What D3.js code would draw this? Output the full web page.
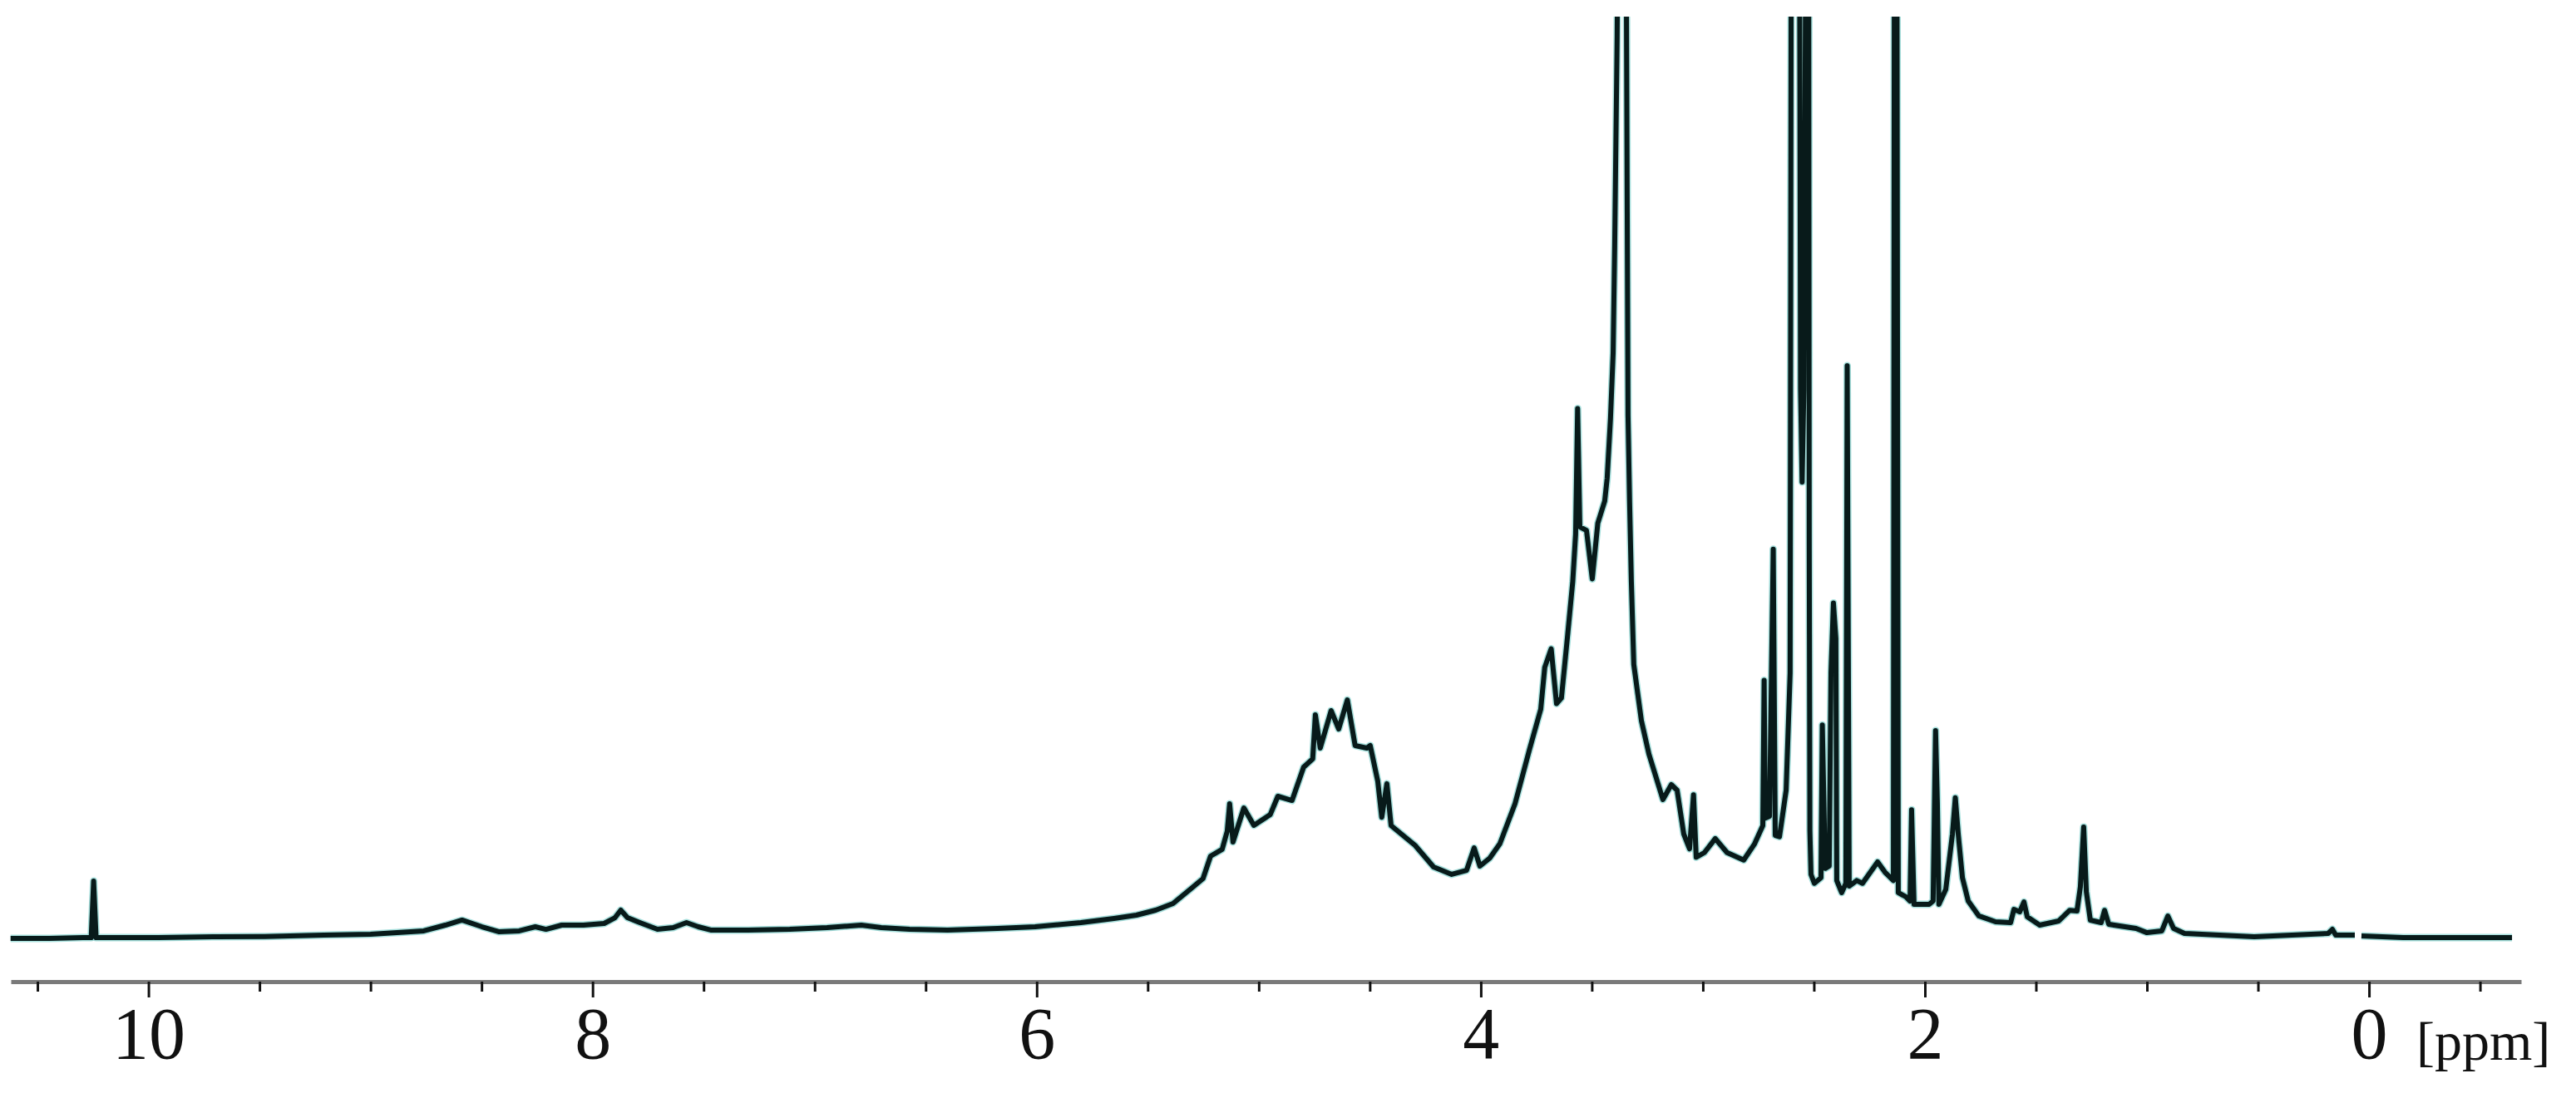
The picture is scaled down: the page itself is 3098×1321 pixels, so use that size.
<!DOCTYPE html>
<html>
<head>
<meta charset="utf-8">
<script src="https://cdn.jsdelivr.net/npm/d3@7"></script>
<style>
  html, body { margin: 0; padding: 0; background: #ffffff; }
</style>
</head>
<body>
<div id="canvas"></div>
<script>
// 1H NMR trace as [ppm, intensity] pairs
// intensity: 0 = flat baseline, 100 = top of the plot (taller peaks get cut)

const baselineLeft = [
    [10.621, 0.98], [10.446, 0.98], [10.296, 1.07], [10.258, 1.07], [10.247, 7.14],
    [10.236, 1.07], [9.955, 1.07], [9.697, 1.16], [9.476, 1.19], [9.210, 1.34],
    [9.000, 1.43], [8.760, 1.79], [8.663, 2.41], [8.588, 2.95], [8.498, 2.23],
    [8.423, 1.70], [8.330, 1.79], [8.258, 2.23], [8.210, 1.96], [8.139, 2.41],
    [8.041, 2.41], [7.948, 2.59], [7.899, 3.21], [7.873, 4.02], [7.843, 3.21],
    [7.787, 2.68], [7.708, 1.96], [7.637, 2.14], [7.577, 2.68], [7.524, 2.23],
    [7.468, 1.88], [7.300, 1.88], [7.112, 1.96], [6.944, 2.14], [6.790, 2.41],
    [6.700, 2.14], [6.573, 1.96], [6.401, 1.88], [6.176, 2.05], [6.007, 2.23]
];

const sugarHump = [
    [5.801, 2.68], [5.652, 3.13], [5.551, 3.48], [5.464, 4.02], [5.386, 4.73],
    [5.300, 6.43], [5.251, 7.41], [5.217, 9.82], [5.165, 10.54], [5.142, 12.5],
    [5.131, 15.45], [5.116, 11.34], [5.067, 15.0], [5.022, 13.13], [4.948, 14.29],
    [4.914, 16.25], [4.850, 15.8], [4.798, 19.38], [4.757, 20.27], [4.745, 25.0],
    [4.723, 21.43], [4.674, 25.45], [4.640, 23.48], [4.601, 26.6], [4.566, 21.7],
    [4.513, 21.43], [4.498, 21.7], [4.464, 17.86], [4.446, 14.0], [4.423, 17.6],
    [4.404, 13.1], [4.296, 10.98], [4.213, 8.66], [4.131, 7.86], [4.064, 8.3],
    [4.030, 10.7], [4.004, 8.75]
];

const mainPeak = [
    [3.960, 9.6], [3.914, 11.16], [3.846, 15.45], [3.779, 21.43], [3.730, 25.6],
    [3.712, 30.1], [3.683, 32.1], [3.659, 26.2], [3.637, 26.8], [3.610, 33.3],
    [3.586, 39.3], [3.573, 44.4], [3.564, 57.9], [3.554, 45.2], [3.524, 44.8],
    [3.498, 39.6], [3.473, 45.6], [3.442, 47.95], [3.431, 50.4], [3.416, 56.8],
    [3.404, 63.9], [3.397, 75.4], [3.386, 97.8], [3.378, 125], [3.348, 125],
    [3.337, 57.1], [3.330, 47.95], [3.322, 39.3], [3.311, 30.4], [3.277, 24.4],
    [3.243, 20.8], [3.180, 15.9], [3.142, 17.5], [3.116, 16.9], [3.086, 12.2],
    [3.060, 10.6], [3.042, 16.4], [3.030, 9.7], [2.993, 10.2], [2.944, 11.7],
    [2.891, 10.2], [2.816, 9.4]
];

const aliphatic = [
    [2.768, 11.1], [2.730, 13.1], [2.724, 28.7], [2.719, 13.9], [2.700, 14.1],
    [2.683, 42.8], [2.674, 12.05], [2.655, 11.9], [2.625, 16.9], [2.607, 29.5],
    [2.601, 125], [2.566, 125], [2.560, 60], [2.553, 50], [2.545, 60],
    [2.534, 125], [2.524, 125], [2.521, 43.75],
    [2.518, 12.5], [2.513, 7.86], [2.498, 6.9], [2.468, 7.5], [2.462, 23.9],
    [2.449, 8.5], [2.431, 8.75], [2.423, 29.5], [2.412, 37.0], [2.401, 33.2],
    [2.397, 7.2], [2.375, 5.9], [2.356, 6.9], [2.350, 62.5], [2.341, 6.6],
    [2.307, 7.2], [2.281, 6.9], [2.213, 9.2], [2.180, 8.1], [2.142, 7.2],
    [2.137, 125], [2.127, 125], [2.120, 5.9], [2.086, 5.45], [2.067, 5.0],
    [2.060, 14.8], [2.049, 4.64], [1.981, 4.64], [1.963, 5.0], [1.952, 23.3],
    [1.944, 15.6], [1.937, 4.64], [1.906, 6.25], [1.876, 12.2], [1.863, 16.1],
    [1.850, 12.2], [1.831, 7.5], [1.805, 5.0], [1.757, 3.4]
];

const baselineRight = [
    [1.682, 2.77], [1.614, 2.68], [1.599, 4.1], [1.573, 3.84], [1.554, 4.9],
    [1.539, 3.3], [1.483, 2.41], [1.397, 2.86], [1.348, 4.0], [1.315, 3.93],
    [1.300, 6.5], [1.285, 12.95], [1.273, 6.0], [1.255, 2.95], [1.206, 2.68],
    [1.191, 4.0], [1.172, 2.5], [1.049, 2.05], [1.000, 1.6], [0.933, 1.79],
    [0.906, 3.39], [0.880, 2.05], [0.831, 1.52], [0.517, 1.16], [0.184, 1.52],
    [0.165, 1.96], [0.150, 1.34], [0.064, 1.34]
];

// the trace is broken just left of 0 ppm
const baselineTail = [
    [0.034, 1.25], [-0.154, 1.07], [-0.644, 1.07]
];

const majorTicks = [10, 8, 6, 4, 2, 0];
const minorTicks = [10.5, 9.5, 9, 8.5, 7.5, 7, 6.5, 5.5, 5, 4.5, 3.5, 3, 2.5, 1.5, 1, 0.5, -0.5];
const unitLabel = "[ppm]";

const width = 3098;
const height = 1321;

const svg = d3.select("#canvas")
    .append("svg")
    .attr("width", width)
    .attr("height", height);

// ppm runs right to left
const x = d3.scaleLinear()
    .domain([10.62, -0.685])
    .range([13, 3032]);

const y = d3.scaleLinear()
    .domain([0, 100])
    .range([1140, 20]);

const axisY = 1181;

svg.append("clipPath")
    .attr("id", "plot-clip")
    .append("rect")
    .attr("x", 0)
    .attr("y", 20)
    .attr("width", width)
    .attr("height", height - 20);

const line = d3.line()
    .x(d => x(d[0]))
    .y(d => y(d[1]));

const segments = [
    baselineLeft.concat(sugarHump, mainPeak, aliphatic, baselineRight),
    baselineTail
];

const plot = svg.append("g")
    .attr("clip-path", "url(#plot-clip)");

// teal fringe under the dark trace
plot.selectAll(".halo")
    .data(segments)
    .enter()
    .append("path")
    .attr("class", "halo")
    .attr("d", line)
    .attr("fill", "none")
    .attr("stroke", "#5cc4c0")
    .attr("stroke-opacity", 0.55)
    .attr("stroke-width", 9)
    .attr("stroke-linejoin", "round");

plot.selectAll(".trace")
    .data(segments)
    .enter()
    .append("path")
    .attr("class", "trace")
    .attr("d", line)
    .attr("fill", "none")
    .attr("stroke", "#081a1a")
    .attr("stroke-width", 6)
    .attr("stroke-linejoin", "round");

//x axis

const minorAxis = d3.axisBottom(x)
    .tickValues(minorTicks)
    .tickSize(12)
    .tickSizeOuter(0)
    .tickFormat("");

const majorAxis = d3.axisBottom(x)
    .tickValues(majorTicks)
    .tickSize(19)
    .tickSizeOuter(0)
    .tickFormat(d3.format("d"));

const gMinor = svg.append("g")
    .attr("transform", `translate(0,${axisY})`)
    .call(minorAxis);

gMinor.select(".domain")
    .attr("stroke", "#7a7a7a")
    .attr("stroke-width", 5);

gMinor.selectAll(".tick line")
    .attr("stroke", "#111")
    .attr("stroke-width", 3);

const gMajor = svg.append("g")
    .attr("transform", `translate(0,${axisY})`)
    .call(majorAxis);

gMajor.select(".domain").remove();

gMajor.selectAll(".tick line")
    .attr("stroke", "#111")
    .attr("stroke-width", 3);

gMajor.selectAll(".tick text")
    .attr("y", 92)
    .attr("dy", null)
    .attr("fill", "#111")
    .style("font-family", "'Liberation Serif', 'Times New Roman', serif")
    .style("font-size", "88px");

svg.append("text")
    .attr("x", 2906)
    .attr("y", axisY + 94)
    .attr("fill", "#111")
    .style("font-family", "'Liberation Serif', 'Times New Roman', serif")
    .style("font-size", "66px")
    .text(unitLabel);
</script>
</body>
</html>
